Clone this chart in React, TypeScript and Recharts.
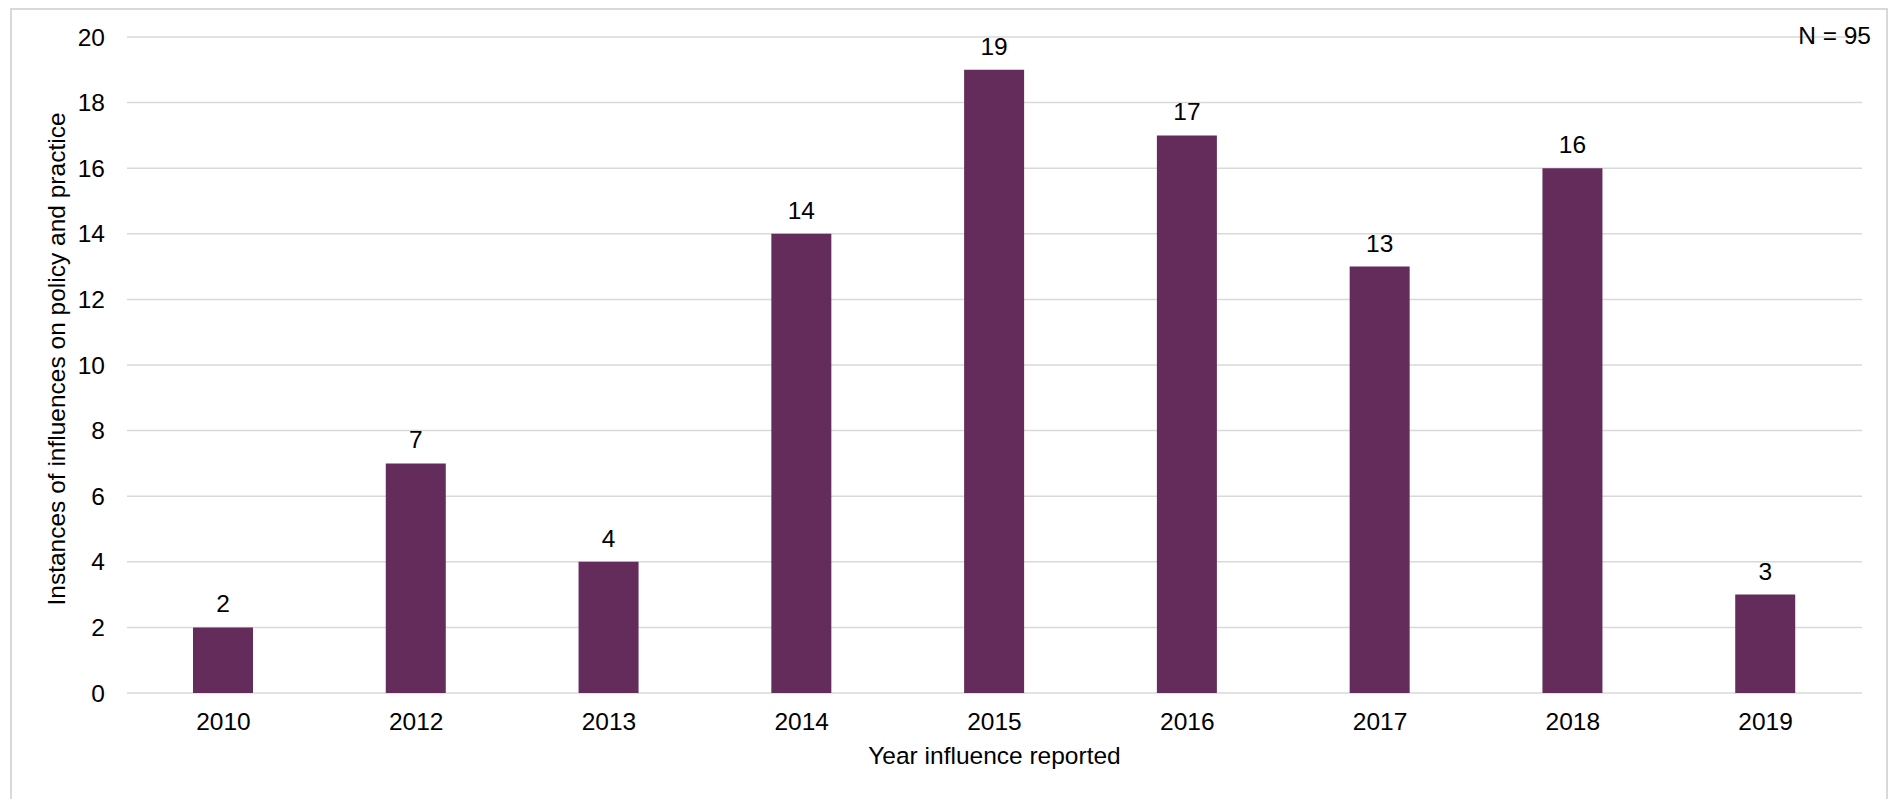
import React from "react";
import {
  BarChart,
  Bar,
  XAxis,
  YAxis,
  CartesianGrid,
  LabelList,
  Label,
} from "recharts";

const years = ["2010", "2012", "2013", "2014", "2015", "2016", "2017", "2018", "2019"];
const counts = [2, 7, 4, 14, 19, 17, 13, 16, 3];
const yTicks = [0, 2, 4, 6, 8, 10, 12, 14, 16, 18, 20];
const totalLabel = "N = 95";

const data = years.map((year, i) => ({ year, count: counts[i] }));

const FONT = "'Liberation Sans', Arial, sans-serif";
const FS = 24.5;
const TEXT = "#000000";
const BAR = "#632C5A";
const GRID = "#d9d9d9";

export default function App() {
  return (
    <div
      style={{
        position: "absolute",
        left: 0,
        top: 0,
        width: 1895,
        height: 799,
        overflow: "hidden",
        background: "#fff",
        fontFamily: FONT,
      }}
    >
      {/* outer frame, bottom edge runs off the picture */}
      <div
        style={{
          position: "absolute",
          left: 10,
          top: 8,
          width: 1878,
          height: 820,
          border: `2px solid ${GRID}`,
          boxSizing: "border-box",
        }}
      />
      <div style={{ position: "absolute", left: 0, top: 0 }}>
        <BarChart
          width={1895}
          height={799}
          data={data}
          margin={{ top: 37, right: 33, left: 27, bottom: 26 }}
          barSize={60}
        >
          <CartesianGrid vertical={false} stroke={GRID} strokeWidth={1.5} />
          <XAxis
            dataKey="year"
            height={80}
            axisLine={false}
            tickLine={false}
            tickSize={0}
            tickMargin={20}
            tick={{ fontSize: FS, fill: TEXT, fontFamily: FONT }}
            label={
              <Label
                content={({ viewBox }: any) => (
                  <text
                    x={viewBox.x + viewBox.width / 2}
                    y={viewBox.y + 71}
                    textAnchor="middle"
                    fontSize={FS}
                    fill={TEXT}
                    fontFamily={FONT}
                  >
                    Year influence reported
                  </text>
                )}
              />
            }
          />
          <YAxis
            width={100}
            domain={[0, 20]}
            ticks={yTicks}
            interval={0}
            axisLine={false}
            tickLine={false}
            tickSize={0}
            tickMargin={22}
            tick={{ fontSize: FS, fill: TEXT, fontFamily: FONT }}
            label={
              <Label
                content={({ viewBox }: any) => {
                  const cx = 65;
                  const cy = viewBox.y + viewBox.height / 2 - 6;
                  return (
                    <text
                      x={cx}
                      y={cy}
                      transform={`rotate(-90 ${cx} ${cy})`}
                      textAnchor="middle"
                      fontSize={FS}
                      fill={TEXT}
                      fontFamily={FONT}
                    >
                      Instances of influences on policy and practice
                    </text>
                  );
                }}
              />
            }
          />
          <Bar dataKey="count" fill={BAR} isAnimationActive={false}>
            <LabelList
              dataKey="count"
              position="top"
              offset={15}
              style={{ fontSize: FS, fill: TEXT, fontFamily: FONT }}
            />
          </Bar>
          <text
            x={1871}
            y={44}
            textAnchor="end"
            fontSize={FS}
            fill={TEXT}
            fontFamily={FONT}
          >
            {totalLabel}
          </text>
        </BarChart>
      </div>
    </div>
  );
}
